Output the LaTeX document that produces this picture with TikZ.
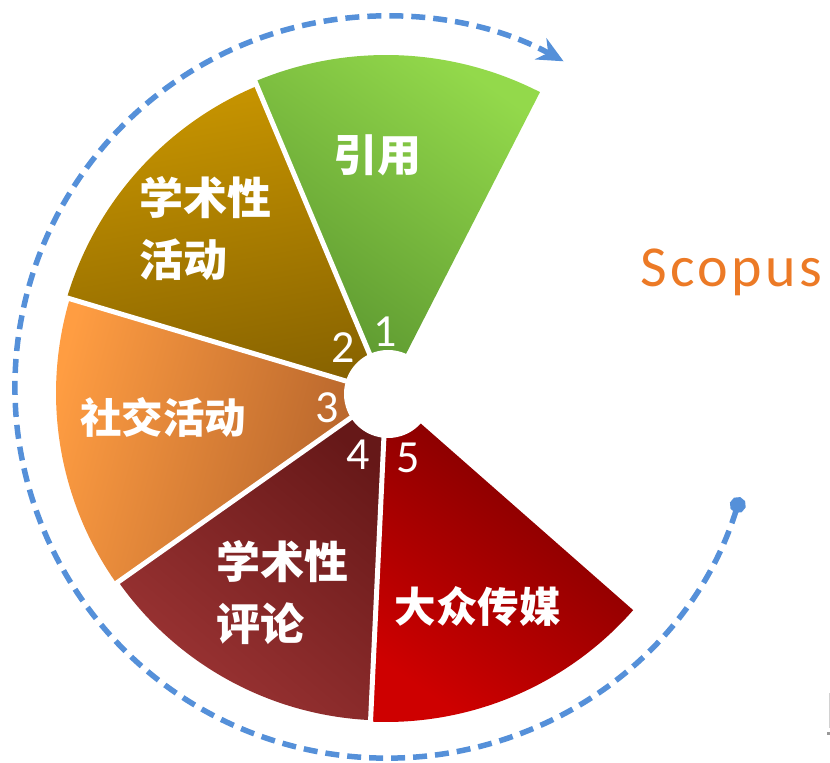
\documentclass[tikz,border=0pt]{standalone}
\usepackage{fontspec}
\usetikzlibrary{arrows.meta}
\newfontfamily\cjk{Noto Sans CJK SC}
\newfontfamily\numfont{Carlito}
\newfontfamily\scofont{Carlito}[LetterSpace=6]
\definecolor{grnL}{HTML}{93D94B}
\definecolor{grnD}{HTML}{5A952F}
\definecolor{goldL}{HTML}{C89500}
\definecolor{goldD}{HTML}{886300}
\definecolor{orgL}{HTML}{FF9D42}
\definecolor{orgD}{HTML}{B0602A}
\definecolor{brnD}{HTML}{661818}
\definecolor{brnL}{HTML}{9C3434}
\definecolor{redD}{HTML}{740000}
\definecolor{redL}{HTML}{CE0000}
\definecolor{arcblue}{HTML}{5590D9}
\definecolor{scoorange}{HTML}{EC7A26}
\begin{document}
\begin{tikzpicture}[x=1pt,y=1pt,
  lbl/.style={text=white, font=\cjk\bfseries\fontsize{44}{62}\selectfont, inner sep=0pt},
  lblsmall/.style={lbl, font=\cjk\bfseries\fontsize{41.5}{62}\selectfont},
  num/.style={text=white, font=\numfont\fontsize{46}{46}\selectfont, inner sep=0pt},
  gapline/.style={white, line width=5pt},
  dashline/.style={draw=arcblue, line width=5.5pt, dash pattern=on 14pt off 8pt},
]
\useasboundingbox (0,0) rectangle (830,763);
\coordinate (C) at (386,370);
\coordinate (A) at (386,376);
% wedges
\shade[top color=grnL, bottom color=grnD, shading angle=-35]
  (C) -- ++(62.9:338) arc[start angle=62.9, end angle=112.8, radius=338] -- cycle;
\shade[top color=goldL, bottom color=goldD, shading angle=10]
  (C) -- ++(112.8:333) arc[start angle=112.8, end angle=163.4, radius=333] -- cycle;
\shade[top color=orgL, bottom color=orgD, shading angle=75]
  (C) -- ++(163.4:330) arc[start angle=163.4, end angle=215.2, radius=330] -- cycle;
\shade[top color=brnD, bottom color=brnL, shading angle=-40]
  (C) -- ++(215.2:327.5) arc[start angle=215.2, end angle=267.3, radius=327.5] -- cycle;
\shade[top color=redD, bottom color=redL, shading angle=-35]
  (C) -- ++(267.3:329) arc[start angle=267.3, end angle=318.7, radius=329] -- cycle;
% gaps
\foreach \a in {112.8,163.4,215.2,267.3}
  \draw[gapline] (C) -- ++(\a:350);
% hole
\node[circle, fill=white, minimum size=88pt, inner sep=0pt] (hole) at (388,369) {};
% dashed arc
\draw[dashline, {Circle[length=16pt]}-{Stealth[length=26pt,width=24pt]}]
  (A) ++(-17.3:371) coordinate (arcstart) arc[start angle=-17.3, end angle=-298.6, radius=371] coordinate (arcend);
% labels
\node[lbl] (yinyong) at (377,608) {引用};
\node[lbl, anchor=west, align=left] (xshd) at (139.5,534) {学术性\\活动};
\node[lblsmall] (shejiao) at (163,346) {社交活动};
\node[lbl, anchor=west, align=left] (xspl) at (216,170.5) {学术性\\评论};
\node[lblsmall] (dazhong) at (477.5,156) {大众传媒};
% numbers
\node[num] (n1) at (385,431) {1};
\node[num] (n2) at (343,415) {2};
\node[num] (n3) at (327,355) {3};
\node[num] (n4) at (358,308) {4};
\node[num] (n5) at (408,305) {5};
% Scopus
\node[font=\scofont\fontsize{58}{58}\selectfont, text=scoorange, anchor=base west, inner sep=0pt] (scopus) at (640,476) {Scopus};
% edge artefact
\draw[gray!35, line width=1pt] (829.5,35) -- (829.5,70);
\fill[gray!80] (826.5,28) rectangle (830,30.5);
\end{tikzpicture}
\end{document}
